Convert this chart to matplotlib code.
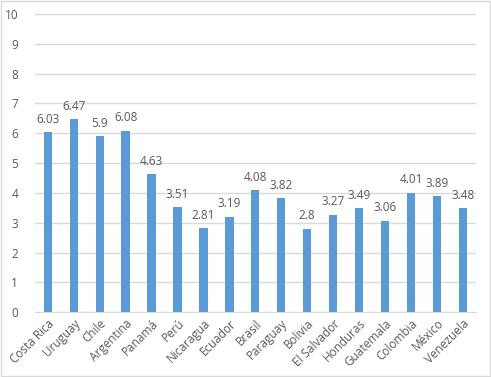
import numpy as np
import matplotlib.pyplot as plt
from matplotlib.patches import Rectangle

paises = ['Costa Rica', 'Uruguay', 'Chile', 'Argentina', 'Panamá', 'Perú',
          'Nicaragua', 'Ecuador', 'Brasil', 'Paraguay', 'Bolivia',
          'El Salvador', 'Honduras', 'Guatemala', 'Colombia', 'México',
          'Venezuela']
valores = [6.03, 6.47, 5.9, 6.08, 4.63, 3.51, 2.81, 3.19, 4.08, 3.82, 2.8,
           3.27, 3.49, 3.06, 4.01, 3.89, 3.48]
etiquetas = ['6.03', '6.47', '5.9', '6.08', '4.63', '3.51', '2.81', '3.19',
             '4.08', '3.82', '2.8', '3.27', '3.49', '3.06', '4.01', '3.89',
             '3.48']

plt.rcParams['font.family'] = ['Open Sans', 'DejaVu Sans']
gris = '#595959'

fig = plt.figure(figsize=(4.91, 3.77), dpi=100)
ax = fig.add_axes([0.071, 0.172, 0.898, 0.791])
fig.patches.append(Rectangle((0.002, 0.002), 0.996, 0.996, transform=fig.transFigure,
                             fill=False, edgecolor='#D9D9D9', linewidth=1))

x = np.arange(len(paises))
ax.bar(x, valores, width=0.32, color='#5B9BD5', zorder=3)
for xi, v, t in zip(x, valores, etiquetas):
    ax.text(xi, v + 0.22, t, ha='center', va='bottom', fontsize=8.5, color=gris)

ax.set_xlim(-0.5, len(paises) - 0.5)
ax.set_ylim(0, 10)
ax.set_yticks(range(0, 11))
ax.yaxis.grid(True, color='#D9D9D9', linewidth=1, zorder=0)
for s in ['top', 'right', 'left']:
    ax.spines[s].set_visible(False)
ax.spines['bottom'].set_color('#D9D9D9')
ax.tick_params(axis='both', length=0, labelsize=8.5, labelcolor=gris)
ax.tick_params(axis='y', pad=12)
ax.set_xticks(x)
ax.set_xticklabels(paises, rotation=45, ha='right', rotation_mode='anchor')

fig.savefig('out.png', dpi=100)
